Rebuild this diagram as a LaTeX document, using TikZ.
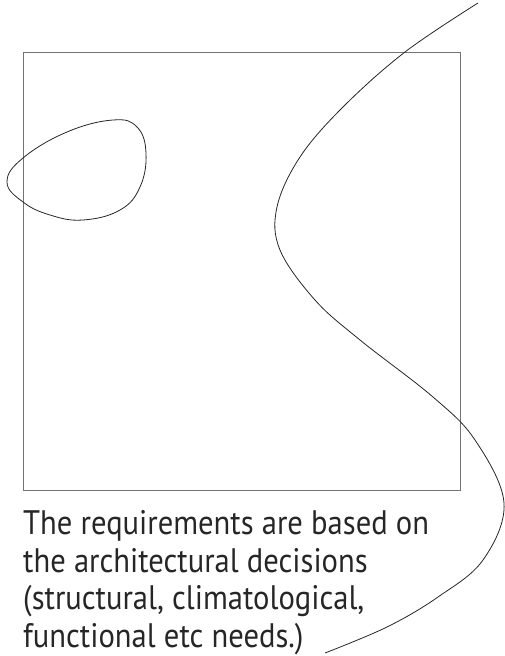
\documentclass[tikz,border=0pt]{standalone}
\usepackage{fontspec}
\setmainfont{PT Sans}[FakeStretch=0.9]
\usepackage{xcolor}
\usepackage{tikz}
\usetikzlibrary{positioning, calc}

\begin{document}
\begin{tikzpicture}[
      x=1pt, y=-1pt,
      frame/.style={draw=black!55, line width=1pt},
      stroke/.style={draw=black!85, line width=0.8pt},
      caption/.style={font=\fontsize{34}{37.5}\selectfont, align=left, anchor=base west, inner sep=0pt, text=black!85}
    ]
      \useasboundingbox (0,0) rectangle (505,656);
      % frame
      \coordinate (tl) at (23,52);
      \coordinate (br) at (460,490);
      \draw[frame] (tl) rectangle (br);
      % loop on the left edge
      \draw[stroke] plot[smooth cycle, tension=0.7] coordinates {
        (7,182) (23,158) (67,132) (113,120) (137,127) (146,153)
        (140,187) (120,210) (83,220) (50,215) (23,202)};
      % long s-curve
      \draw[stroke] plot[smooth, tension=0.6] coordinates {
        (478,3) (405,52) (343,107) (300,157) (277,207) (280,250)
        (315,300) (360,340) (433,397) (475,440) (504,503)
        (483,560) (438,597) (387,627) (325,653)};
      \node[caption] (req) at (23,647) {The requirements are based on\\
        the architectural decisions\\
        (structural, climatological,\\
        functional etc needs.)};
    \end{tikzpicture}
\end{document}
